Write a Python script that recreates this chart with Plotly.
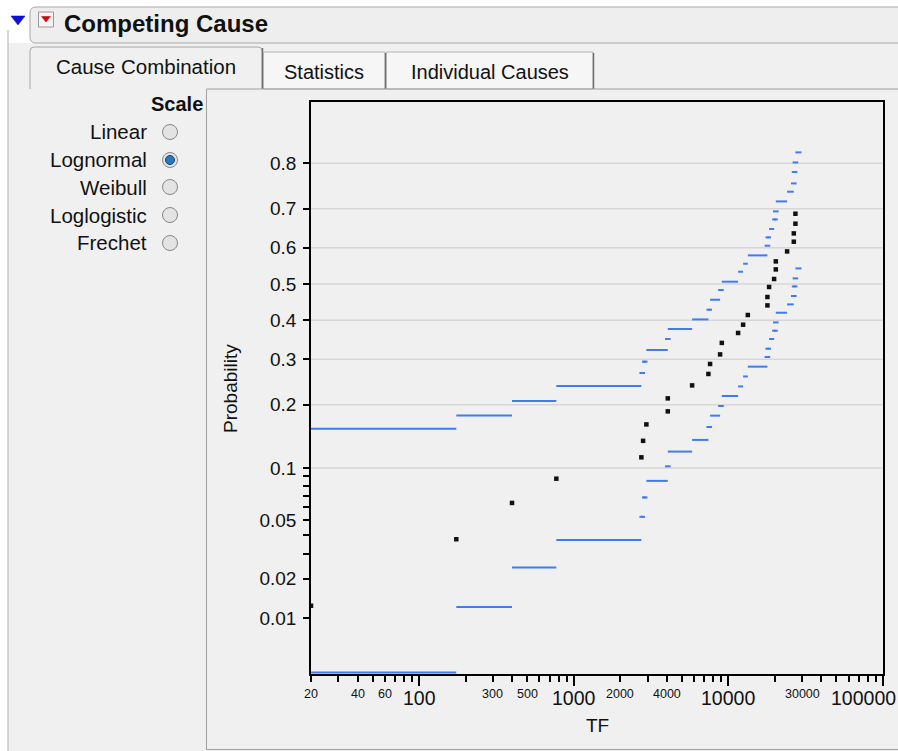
import math
from statistics import NormalDist
import plotly.graph_objects as go

# ---------------- data ----------------
tf = [20, 174, 399, 772, 2738, 2809, 2950, 4058, 4058, 5829, 7430, 7617,
      8843, 9070, 11560, 12455, 13360, 17890, 17890, 18340, 19760, 20270,
      20270, 23980, 26500, 26500, 27140, 27140]
tf_end = 29700

estimate = [0.0125, 0.0377, 0.0636, 0.0875, 0.1136, 0.1373, 0.1640, 0.1875,
            0.2128, 0.2400, 0.2654, 0.2887, 0.3119, 0.3408, 0.3665, 0.3884,
            0.4145, 0.4408, 0.4639, 0.4917, 0.5139, 0.5405, 0.5626, 0.5898,
            0.6159, 0.6378, 0.6628, 0.6878]

lower = [0.0034, 0.0122, 0.0241, 0.0373, 0.0524, 0.0685, 0.0851, 0.1020,
         0.1215, 0.1387, 0.1596, 0.1796, 0.1977, 0.2176, 0.2378, 0.2598,
         0.2824, 0.3055, 0.3261, 0.3508, 0.3725, 0.3945, 0.4207, 0.4435,
         0.4667, 0.4933, 0.5156, 0.5433]

upper = [0.1568, 0.1796, 0.2076, 0.2387, 0.2677, 0.2942, 0.3229, 0.3509,
         0.3770, 0.4026, 0.4290, 0.4564, 0.4833, 0.5064, 0.5341, 0.5562,
         0.5790, 0.6052, 0.6273, 0.6492, 0.6736, 0.6935, 0.7175, 0.7399,
         0.7583, 0.7824, 0.8015, 0.8204]

x_major_ticks = [100, 1000, 10000, 100000]
x_major_labels = ["100", "1000", "10000", "100000"]
x_minor_ticks = [20, 30, 40, 50, 60, 70, 80, 90,
                 200, 300, 400, 500, 600, 700, 800, 900,
                 2000, 3000, 4000, 5000, 6000, 7000, 8000, 9000,
                 20000, 30000, 40000, 50000, 60000, 70000, 80000, 90000]
x_small_label_vals = [20, 40, 60, 300, 500, 2000, 4000, 30000]
x_small_labels = ["20", "40", "60", "300", "500", "2000", "4000", "30000"]

y_tick_probs = [0.01, 0.02, 0.05, 0.1, 0.2, 0.3, 0.4, 0.5, 0.6, 0.7, 0.8]
y_tick_labels = ["0.01", "0.02", "0.05", "0.1", "0.2", "0.3", "0.4", "0.5",
                 "0.6", "0.7", "0.8"]
y_minor_probs = [0.03, 0.04, 0.06, 0.07, 0.08, 0.09]
y_grid_probs = [0.1, 0.2, 0.3, 0.4, 0.5, 0.6, 0.7, 0.8]

title_text = "Competing Cause"
tab_names = ["Cause Combination", "Statistics", "Individual Causes"]
scale_options = ["Linear", "Lognormal", "Weibull", "Loglogistic", "Frechet"]
selected_scale = "Lognormal"

# ---------------- helpers ----------------
ppf = NormalDist().inv_cdf
FONT = "Liberation Sans, Arial, sans-serif"
BLUE = "#3f7cf0"
W, H = 898, 751
L, R, T, B = 311, 15, 102, 77
PW, PH = W - L - R, H - T - B


def PX(x):
    return (x - L) / PW


def PY(y):
    return (H - B - y) / PH


def band_xy(vals):
    xs, ys, mx, my = [], [], [], []
    ends = tf[1:] + [tf_end]
    for t0, t1, v in zip(tf, ends, vals):
        z = ppf(v)
        xs += [t0, t1, None]
        ys += [z, z, None]
        # very short steps are drawn as small dashes (as JMP does)
        if t1 / t0 < 1.06:
            mx.append(math.sqrt(t0 * t1))
            my.append(z)
    return xs, ys, mx, my


fig = go.Figure()

for band in (lower, upper):
    xs, ys, mx, my = band_xy(band)
    fig.add_trace(go.Scatter(x=xs, y=ys, mode="lines",
                             line=dict(color=BLUE, width=2),
                             hoverinfo="skip", showlegend=False))
    fig.add_trace(go.Scatter(x=mx, y=my, mode="markers",
                             marker=dict(symbol="line-ew", size=4,
                                         line=dict(color=BLUE, width=2)),
                             hoverinfo="skip", showlegend=False))

fig.add_trace(go.Scatter(x=tf, y=[ppf(p) for p in estimate], mode="markers",
                         marker=dict(symbol="square", size=4.5, color="#111111",
                                     line=dict(width=0)),
                         showlegend=False))

shapes = []
# gridlines
for p in y_grid_probs:
    shapes.append(dict(type="line", xref="x", yref="y", x0=20, x1=100000,
                       y0=ppf(p), y1=ppf(p), layer="below",
                       line=dict(color="#d6d6d6", width=1.5)))


# window chrome
def rect(x0, y0, x1, y1, fill=None, line=None, lw=1):
    return dict(type="rect", xref="paper", yref="paper",
                x0=PX(x0), x1=PX(x1), y0=PY(y1), y1=PY(y0), layer="below",
                fillcolor=fill if fill else "rgba(0,0,0,0)",
                line=dict(color=line if line else "rgba(0,0,0,0)", width=lw))


def seg(x0, y0, x1, y1, color, lw=1):
    return dict(type="line", xref="paper", yref="paper",
                x0=PX(x0), x1=PX(x1), y0=PY(y0), y1=PY(y1), layer="below",
                line=dict(color=color, width=lw))


def path(pts, fill, line, lw=1, closed=True):
    d = "M " + " L ".join(f"{PX(x):.5f},{PY(y):.5f}" for x, y in pts)
    if closed:
        d += " Z"
    return dict(type="path", xref="paper", yref="paper", path=d, layer="below",
                fillcolor=fill, line=dict(color=line, width=lw))


shapes.append(rect(8, 43, 910, 760, fill="#f0f0f0"))
shapes.append(seg(8, 30, 8, 760, "#b0b0b0", 1))
# title box with rounded left corners
tb = (f"M {PX(36)},{PY(7)} L {PX(910)},{PY(7)} L {PX(910)},{PY(43)} "
      f"L {PX(36)},{PY(43)} Q {PX(30)},{PY(43)} {PX(30)},{PY(37)} "
      f"L {PX(30)},{PY(13)} Q {PX(30)},{PY(7)} {PX(36)},{PY(7)} Z")
shapes.append(dict(type="path", xref="paper", yref="paper", path=tb, layer="below",
                   fillcolor="#eeeeee", line=dict(color="#a8a8a8", width=1)))
# disclosure triangle and red menu icon
shapes.append(path([(11, 16), (25, 16), (18, 25)], "#1010e0", "#0a0aa0", 0.5))
shapes.append(dict(type="rect", xref="paper", yref="paper", layer="below",
                   x0=PX(38.5), x1=PX(53.5), y0=PY(27), y1=PY(12),
                   fillcolor="#f4f4f4", line=dict(color="#9a9a9a", width=1)))
shapes.append(path([(41.5, 16.5), (50.5, 16.5), (46, 22)], "#e00000", "#b00000", 0.5))

# tabs
sel_tab = (f"M {PX(30)},{PY(89)} L {PX(30)},{PY(51)} Q {PX(30)},{PY(47)} {PX(34)},{PY(47)} "
           f"L {PX(258)},{PY(47)} Q {PX(262)},{PY(47)} {PX(262)},{PY(51)} L {PX(262)},{PY(89)}")
shapes.append(dict(type="path", xref="paper", yref="paper", path=sel_tab, layer="below",
                   fillcolor="#f0f0f0", line=dict(color="#a6a6a6", width=1)))
shapes.append(seg(262.5, 48, 262.5, 89, "#707070", 1.5))
shapes.append(rect(263.5, 52, 385, 89, fill="#f6f6f6", line="#b4b4b4"))
shapes.append(seg(385.5, 53, 385.5, 89, "#707070", 1.5))
shapes.append(rect(386.5, 52, 593, 89, fill="#f6f6f6", line="#b4b4b4"))
shapes.append(seg(593.5, 53, 593.5, 89, "#707070", 1.5))
# graph frame
shapes.append(rect(206.5, 89, 910, 749.5, line="#a0a0a0"))

# radio buttons
radio_y = [132, 160, 187, 215, 243]
for name, cy in zip(scale_options, radio_y):
    r = 7.5
    shapes.append(dict(type="circle", xref="paper", yref="paper", layer="below",
                       x0=PX(170 - r), x1=PX(170 + r), y0=PY(cy + r), y1=PY(cy - r),
                       fillcolor="#e3e3e3", line=dict(color="#888888", width=1)))
    if name == selected_scale:
        r2 = 4.5
        shapes.append(dict(type="circle", xref="paper", yref="paper", layer="below",
                           x0=PX(170 - r2), x1=PX(170 + r2), y0=PY(cy + r2), y1=PY(cy - r2),
                           fillcolor="#2a78c0", line=dict(color="#15456f", width=1)))

annotations = []


def txt(s, x, y, size=19.5, xanchor="center", yanchor="middle", bold=False,
        xref="paper", angle=0, color="#111111"):
    return dict(text=f"<b>{s}</b>" if bold else s,
                x=PX(x) if xref == "paper" else x, y=PY(y), xref=xref, yref="paper",
                xanchor=xanchor, yanchor=yanchor, showarrow=False, textangle=angle,
                font=dict(family=FONT, size=size, color=color))


annotations.append(txt(title_text, 62, 24, size=24, xanchor="left", bold=True))
annotations.append(txt(tab_names[0], 146, 67, size=20.5))
annotations.append(txt(tab_names[1], 323.5, 72, size=20))
annotations.append(txt(tab_names[2], 490, 72, size=20))
annotations.append(txt("Scale", 205, 104, size=20, xanchor="right", bold=True))
for name, cy in zip(scale_options, radio_y):
    annotations.append(txt(name, 149, cy, size=20.5, xanchor="right"))

# x tick labels
for v, s in zip(x_small_label_vals, x_small_labels):
    annotations.append(txt(s, math.log10(v), 693.5, size=12.5, xref="x"))
for v, s in zip(x_major_ticks, x_major_labels):
    if v == x_major_ticks[-1]:
        annotations.append(txt(s, 897.5, 697.5, size=19.5, xanchor="right"))
    else:
        annotations.append(txt(s, math.log10(v), 697.5, size=19.5, xref="x"))

# axis titles
annotations.append(txt("TF", 597, 725, size=19))
annotations.append(txt("Probability", 230, 389, size=19, angle=-90))

fig.update_layout(
    width=W, height=H, margin=dict(l=L, r=R, t=T, b=B, pad=0),
    paper_bgcolor="white", plot_bgcolor="white", showlegend=False,
    font=dict(family=FONT, size=19, color="#111111"),
    shapes=shapes, annotations=annotations,
)

fig.update_xaxes(
    type="log", range=[math.log10(20), 5], tickmode="array",
    tickvals=x_major_ticks, showticklabels=False,
    ticks="outside", ticklen=10, tickwidth=1.5, tickcolor="black",
    showline=True, linecolor="black", linewidth=1.5, mirror=True,
    showgrid=False, zeroline=False,
    minor=dict(tickmode="array", tickvals=x_minor_ticks, ticks="outside",
               ticklen=6, tickwidth=1.5, tickcolor="black", showgrid=False),
)

fig.update_yaxes(
    range=[-2.717, 1.268], tickmode="array",
    tickvals=[ppf(p) for p in y_tick_probs], ticktext=y_tick_labels,
    ticks="outside", ticklen=6, tickwidth=1.5, tickcolor="black",
    tickfont=dict(family=FONT, size=19, color="#111111"), ticklabelstandoff=3,
    showline=True, linecolor="black", linewidth=1.5, mirror=True,
    showgrid=False, zeroline=False,
    minor=dict(tickmode="array", tickvals=[ppf(p) for p in y_minor_probs],
               ticks="outside", ticklen=6, tickwidth=1.5, tickcolor="black",
               showgrid=False),
)

fig.write_html("out.html")
